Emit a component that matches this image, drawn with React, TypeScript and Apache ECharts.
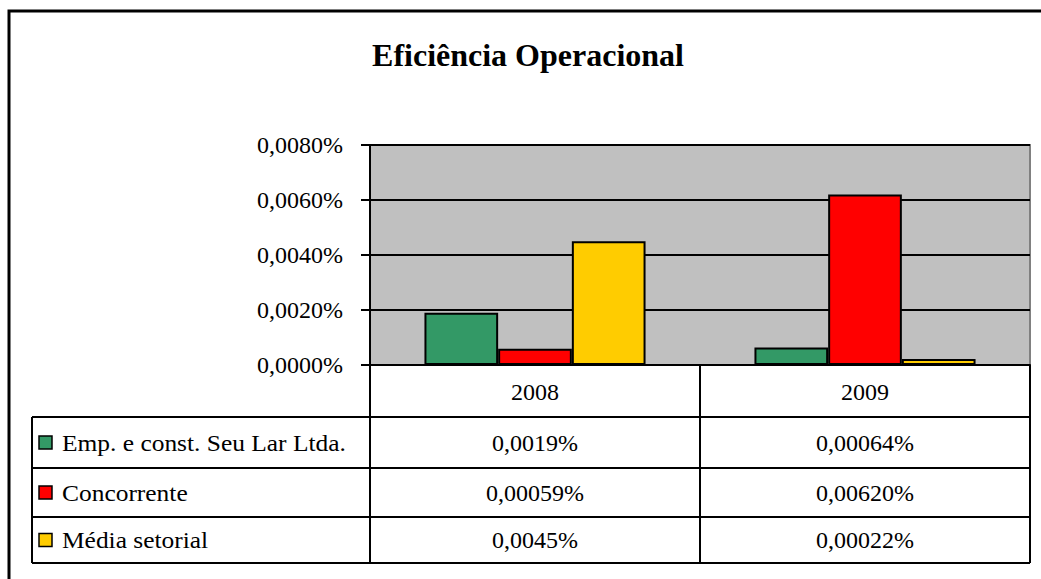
import React, { useEffect, useRef } from "react";
import * as echarts from "echarts";

const title = "Eficiência Operacional";
const categories = ["2008", "2009"];
const seriesNames = ["Emp. e const. Seu Lar Ltda.", "Concorrente", "Média setorial"];
const seriesColors = ["#339966", "#FF0000", "#FFCC00"];
const empValues = [0.0019, 0.00064];
const concValues = [0.00059, 0.0062];
const mediaValues = [0.0045, 0.00022];
const empLabels = ["0,0019%", "0,00064%"];
const concLabels = ["0,00059%", "0,00620%"];
const mediaLabels = ["0,0045%", "0,00022%"];
const yTicks = [0, 0.002, 0.004, 0.006, 0.008];

const FONT = "'Liberation Serif', 'Times New Roman', serif";
const FS = 24;

export default function App() {
  const ref = useRef<HTMLDivElement>(null);
  useEffect(() => {
    if (!ref.current) return;
    const chart = echarts.init(ref.current, null, { renderer: "svg" });
    const values = [empValues, concValues, mediaValues];
    const labels = [empLabels, concLabels, mediaLabels];
    const gridTop = 145;
    const gridBottomY = 365;
    const tableLeft = 32;
    const tableRight = 1030;
    const rowLines = [417, 468, 517, 563];

    chart.setOption({
      animation: false,
      backgroundColor: "#ffffff",
      textStyle: { fontFamily: FONT },
      grid: {
        left: 370,
        right: 1041 - tableRight,
        top: gridTop,
        bottom: 579 - gridBottomY,
        show: true,
        backgroundColor: "#C0C0C0",
        borderColor: "#808080",
        borderWidth: 2,
      },
      xAxis: {
        type: "category",
        data: categories,
        axisLine: { show: true, lineStyle: { color: "#000", width: 2 } },
        axisTick: { show: true, inside: false, length: rowLines[3] - gridBottomY, lineStyle: { color: "#000", width: 2 } },
        axisLabel: { show: true, margin: 15, fontSize: FS, color: "#000", fontFamily: FONT },
        splitLine: { show: false },
      },
      yAxis: {
        type: "value",
        min: yTicks[0],
        max: yTicks[yTicks.length - 1],
        interval: yTicks[1] - yTicks[0],
        axisLine: { show: true, lineStyle: { color: "#000", width: 2 } },
        axisTick: { show: true, inside: false, length: 9, lineStyle: { color: "#000", width: 2 } },
        axisLabel: {
          margin: 27,
          fontSize: FS,
          color: "#000",
          fontFamily: FONT,
          padding: [5, 0, 0, 0],
          formatter: (v: number) => v.toFixed(4).replace(".", ",") + "%",
        },
        splitLine: { show: true, lineStyle: { color: "#000", width: 2 } },
      },
      series: seriesNames.map((name, i) => ({
        name,
        type: "bar",
        data: values[i],
        barGap: "0%",
        barCategoryGap: "33%",
        itemStyle: { color: seriesColors[i], borderColor: "#000", borderWidth: 2 },
      })),
    });

    const colX = categories.map((c) => chart.convertToPixel({ xAxisIndex: 0 }, c) as number);
    const rowCenters = [0, 1, 2].map((i) => (rowLines[i] + rowLines[i + 1]) / 2);

    const graphics: any[] = [
      {
        type: "rect",
        shape: { x: 9, y: 11, width: 1200, height: 800 },
        style: { fill: "none", stroke: "#000", lineWidth: 3 },
      },
      {
        type: "text",
        x: 528,
        y: 55,
        style: {
          text: title,
          fontFamily: FONT,
          fontSize: 32,
          fontWeight: "bold",
          fill: "#000",
          textAlign: "center",
          textVerticalAlign: "middle",
        },
      },
      {
        type: "line",
        shape: { x1: tableLeft, y1: rowLines[0], x2: tableLeft, y2: rowLines[3] },
        style: { stroke: "#000", lineWidth: 2 },
      },
    ];
    rowLines.forEach((y) => {
      graphics.push({
        type: "line",
        shape: { x1: tableLeft, y1: y, x2: tableRight, y2: y },
        style: { stroke: "#000", lineWidth: 2 },
      });
    });
    seriesNames.forEach((name, i) => {
      const cy = rowCenters[i];
      graphics.push({
        type: "rect",
        shape: { x: 39, y: cy - 6.5, width: 13, height: 13 },
        style: { fill: seriesColors[i], stroke: "#000", lineWidth: 1.5 },
      });
      graphics.push({
        type: "text",
        x: 62,
        y: cy,
        scaleX: 1.06,
        style: {
          text: name,
          fontFamily: FONT,
          fontSize: FS,
          fill: "#000",
          textAlign: "left",
          textVerticalAlign: "middle",
        },
      });
      labels[i].forEach((lab, j) => {
        graphics.push({
          type: "text",
          x: colX[j],
          y: cy,
          style: {
            text: lab,
            fontFamily: FONT,
            fontSize: FS,
            fill: "#000",
            textAlign: "center",
            textVerticalAlign: "middle",
          },
        });
      });
    });

    chart.setOption({ graphic: graphics });
    return () => chart.dispose();
  }, []);

  return (
    <div
      ref={ref}
      style={{ position: "absolute", left: 0, top: 0, width: 1041, height: 579, background: "#fff" }}
    />
  );
}
